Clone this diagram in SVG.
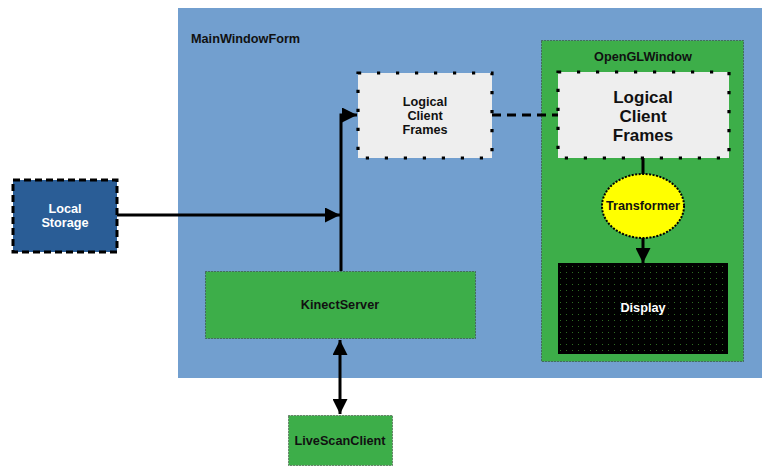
<svg xmlns="http://www.w3.org/2000/svg" width="762" height="466" viewBox="0 0 762 466">
<style>
text{font-family:"Liberation Sans",Arial,sans-serif;font-weight:bold;text-anchor:middle}
.t12{font-size:12.7px;fill:#111}
.w12{font-size:12.7px;fill:#fff}
.t16{font-size:17px;fill:#111}
.green{fill:#3dae49;stroke:#333;stroke-width:1;stroke-dasharray:1 2}
.dots{stroke:#000;stroke-width:3.2;stroke-dasharray:3.2 15.8}
.edge{fill:none;stroke:#000;stroke-width:3}
</style>
<defs>
<marker id="ah" viewBox="0 0 10 10" refX="10" refY="5" markerWidth="5" markerHeight="5" orient="auto-start-reverse" markerUnits="strokeWidth">
<path d="M0,0 L10,5 L0,10 z" fill="#000"/>
</marker>
<pattern id="dp" width="6" height="6" patternUnits="userSpaceOnUse">
<rect width="6" height="6" fill="#000"/>
<rect x="2" y="2" width="1" height="1" fill="#2e6b22"/>
</pattern>
</defs>
<rect width="762" height="466" fill="#fff"/>
<g id="MainWindowForm">
<rect x="178" y="8" width="584" height="370" fill="#729fcf"/>
<text x="191" y="43" class="t12" style="text-anchor:start">MainWindowForm</text>
</g>
<g id="OpenGLWindow">
<rect x="541.5" y="40.5" width="202" height="321" class="green"/>
<text x="643" y="61" class="t12">OpenGLWindow</text>
</g>
<g id="connectors">
<path d="M492,115 L558,115" class="edge" stroke-dasharray="9 6"/>
<path d="M117,215 L340,215" class="edge" marker-end="url(#ah)"/>
<path d="M341,271 L341,115 L357,115" class="edge" marker-end="url(#ah)"/>
<path d="M643,158 L643,174" class="edge"/>
<path d="M643,238 L643,263" class="edge" marker-end="url(#ah)"/>
<path d="M340,340 L340,414" class="edge" marker-start="url(#ah)" marker-end="url(#ah)"/>
</g>
<g id="LogicalClientFrames1">
<rect x="358" y="73" width="134" height="85" fill="#eeeeee" class="dots"/>
<text x="425" y="106" class="t12">Logical</text>
<text x="425" y="120" class="t12">Client</text>
<text x="425" y="134" class="t12">Frames</text>
</g>
<g id="LogicalClientFrames2">
<rect x="558" y="72" width="171" height="86" fill="#eeeeee" class="dots"/>
<text x="643" y="103" class="t16">Logical</text>
<text x="643" y="122" class="t16">Client</text>
<text x="643" y="141" class="t16">Frames</text>
</g>
<g id="LocalStorage">
<rect x="13" y="180" width="104" height="72" fill="#2a5d96" stroke="#000" stroke-width="3" stroke-dasharray="7 4"/>
<text x="65" y="213" class="w12">Local</text>
<text x="65" y="227" class="w12">Storage</text>
</g>
<g id="Transformer">
<ellipse cx="643" cy="206" rx="41" ry="32" fill="#ffff00" stroke="#000" stroke-width="2" stroke-dasharray="2 1.5"/>
<text x="643" y="210" class="t12">Transformer</text>
</g>
<g id="Display">
<rect x="558" y="263" width="170" height="91" fill="url(#dp)"/>
<text x="643" y="312" class="w12">Display</text>
</g>
<g id="KinectServer">
<rect x="205.5" y="271.5" width="270" height="67" class="green"/>
<text x="340" y="309" class="t12">KinectServer</text>
</g>
<g id="LiveScanClient">
<rect x="288.5" y="415.5" width="104" height="50" class="green"/>
<text x="340" y="445" class="t12">LiveScanClient</text>
</g>
</svg>
